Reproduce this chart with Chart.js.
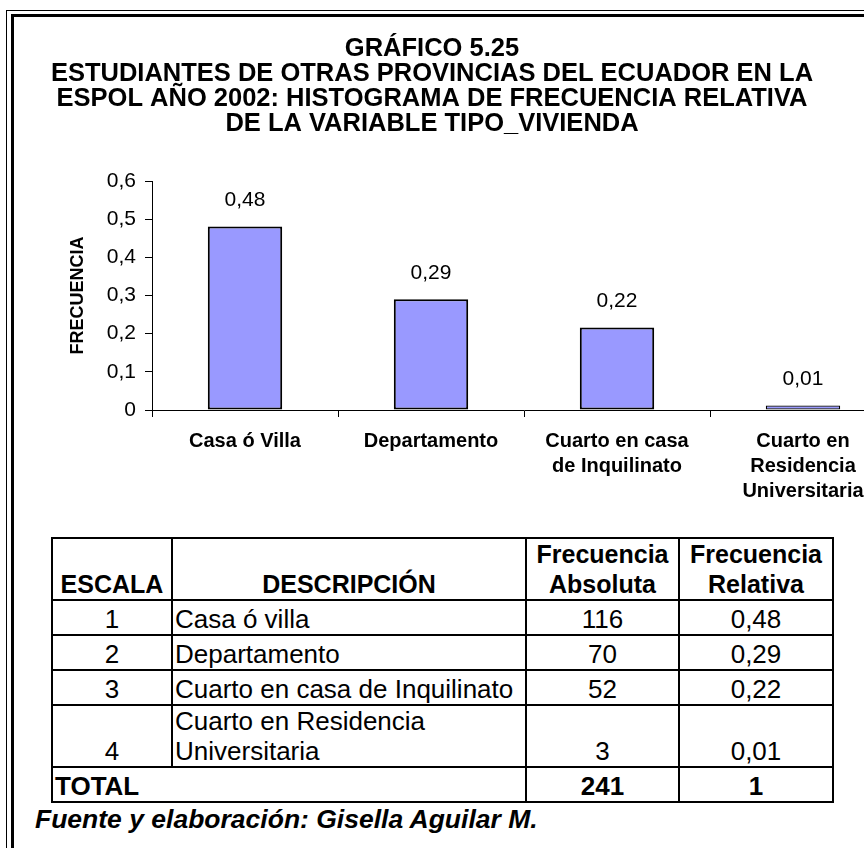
<!DOCTYPE html>
<html>
<head>
<meta charset="utf-8">
<script src="https://cdn.jsdelivr.net/npm/chart.js@4/dist/chart.umd.min.js"></script>
<style>
  html, body { margin: 0; padding: 0; background: #fff; }
  body { width: 864px; height: 848px; overflow: hidden; position: relative; font-family: "Liberation Sans", Arial, sans-serif; }
  .b-out { position: absolute; left: 6px; top: 10px; right: -10px; bottom: -10px; border-left: 1.5px solid #000; border-top: 1.5px solid #000; }
  .b-in { position: absolute; left: 11px; top: 14px; right: -10px; bottom: -10px; border-left: 3px solid #000; border-top: 3px solid #000; }
  #myChart { position: absolute; left: -32px; top: 0; }
  #tabla { position: absolute; left: 51px; top: 537px; border-collapse: collapse; font-size: 26px; color: #000; }
  #tabla td { border: 2px solid #000; padding: 0 2px; line-height: 30px; height: 33px; vertical-align: bottom; white-space: nowrap; }
  #tabla .h td { font-weight: bold; font-size: 25px; text-align: center; height: 60px; }
  #tabla .h td:first-child { padding: 0; }
  #tabla .doble td { height: 60px; }
  #tabla .c { text-align: center; }
  #tabla .tot td { font-weight: bold; height: 33px; }
  .fuente { position: absolute; left: 35px; top: 804px; font-size: 26.5px; font-weight: bold; font-style: italic; }
</style>
</head>
<body>
<div class="b-out"></div>
<div class="b-in"></div>
<canvas id="myChart" width="928" height="508"></canvas>
<table id="tabla"></table>
<div class="fuente">Fuente y elaboración: Gisella Aguilar M.</div>
<script>
let categorias = [['Casa ó Villa'], ['Departamento'], ['Cuarto en casa', 'de Inquilinato'], ['Cuarto en', 'Residencia', 'Universitaria']];
let frecRelativa = [0.481, 0.29, 0.216, 0.012];
let yTicks = [0, 0.1, 0.2, 0.3, 0.4, 0.5, 0.6];

let escala = [1, 2, 3, 4];
let descripcion = ['Casa ó villa', 'Departamento', 'Cuarto en casa de Inquilinato', 'Cuarto en Residencia<br>Universitaria'];
let frecAbs = [116, 70, 52, 3];
let frecRel = ['0,48', '0,29', '0,22', '0,01'];
let totalAbs = 241;
let totalRel = 1;

function coma(v){
  if(v===0){return '0';}
  return v.toFixed(1).replace('.', ',');
}

// etiquetas encima de las barras
const valoresBarras = {
  id: 'valoresBarras',
  afterDatasetsDraw(chart){
    let ctx = chart.ctx;
    ctx.save();
    ctx.font = '21px "Liberation Sans", Arial, sans-serif';
    ctx.fillStyle = '#000';
    ctx.textAlign = 'center';
    ctx.textBaseline = 'middle';
    chart.getDatasetMeta(0).data.forEach((bar, i) => {
      let v = chart.data.datasets[0].data[i];
      ctx.fillText(v.toFixed(2).replace('.', ','), bar.x, bar.y - 26);
    });
    ctx.restore();
  }
};

let chart = new Chart(document.getElementById('myChart'), {
  type: 'bar',
  data: {
    labels: categorias,
    datasets: [{
      data: frecRelativa,
      backgroundColor: '#9999FF',
      borderColor: '#000',
      borderWidth: [2, 2, 2, 1.3],
      borderSkipped: false,
      barPercentage: 0.4,
      categoryPercentage: 1
    }]
  },
  options: {
    responsive: false,
    animation: false,
    layout: { padding: { left: 0, right: 0, top: 0, bottom: 0 } },
    plugins: {
      legend: { display: false },
      tooltip: { enabled: false },
      title: {
        display: true,
        text: ['GRÁFICO 5.25', 'ESTUDIANTES DE OTRAS PROVINCIAS DEL ECUADOR EN LA', 'ESPOL AÑO 2002: HISTOGRAMA DE FRECUENCIA RELATIVA', 'DE LA VARIABLE TIPO_VIVIENDA'],
        color: '#000',
        font: { family: '"Liberation Sans", Arial, sans-serif', size: 25.5, weight: 'bold', lineHeight: '25px' },
        padding: { top: 36, bottom: 45 }
      }
    },
    scales: {
      x: {
        grid: { display: true, drawOnChartArea: false, color: '#000', tickLength: 7, offset: true },
        border: { color: '#000', width: 1 },
        ticks: {
          color: '#000',
          autoSkip: false,
          maxRotation: 0,
          padding: 12,
          font: { family: '"Liberation Sans", Arial, sans-serif', size: 20, weight: 'bold', lineHeight: '25px' }
        },
        afterFit(scale){ scale.height = 98; }
      },
      y: {
        min: 0,
        max: 0.6,
        grid: { display: true, drawOnChartArea: false, color: '#000', tickLength: 7 },
        border: { color: '#000', width: 1 },
        afterBuildTicks(scale){ scale.ticks = yTicks.map(v => ({ value: v })); },
        ticks: {
          color: '#000',
          padding: 9,
          callback: (v) => coma(v),
          font: { family: '"Liberation Sans", Arial, sans-serif', size: 21 }
        },
        title: {
          display: true,
          text: 'FRECUENCIA',
          color: '#000',
          font: { family: '"Liberation Sans", Arial, sans-serif', size: 18, weight: 'bold' },
          padding: { top: 99, bottom: 0 }
        },
        afterFit(scale){ scale.width = 184; }
      }
    }
  },
  plugins: [valoresBarras]
});

// tabla de frecuencias
let tabla = document.getElementById('tabla');
let html = '<colgroup><col style="width:120px"><col style="width:354px"><col style="width:153px"><col style="width:154px"></colgroup>';
html += '<tr class="h"><td>ESCALA</td><td>DESCRIPCIÓN</td><td>Frecuencia<br>Absoluta</td><td>Frecuencia<br>Relativa</td></tr>';
escala.forEach((e, i) => {
  let cls = descripcion[i].indexOf('<br>') >= 0 ? ' class="doble"' : '';
  html += '<tr' + cls + '><td class="c">' + e + '</td><td>' + descripcion[i] + '</td><td class="c">' + frecAbs[i] + '</td><td class="c">' + frecRel[i] + '</td></tr>';
});
html += '<tr class="tot"><td colspan="2">TOTAL</td><td class="c">' + totalAbs + '</td><td class="c">' + totalRel + '</td></tr>';
tabla.innerHTML = html;
</script>
</body>
</html>
